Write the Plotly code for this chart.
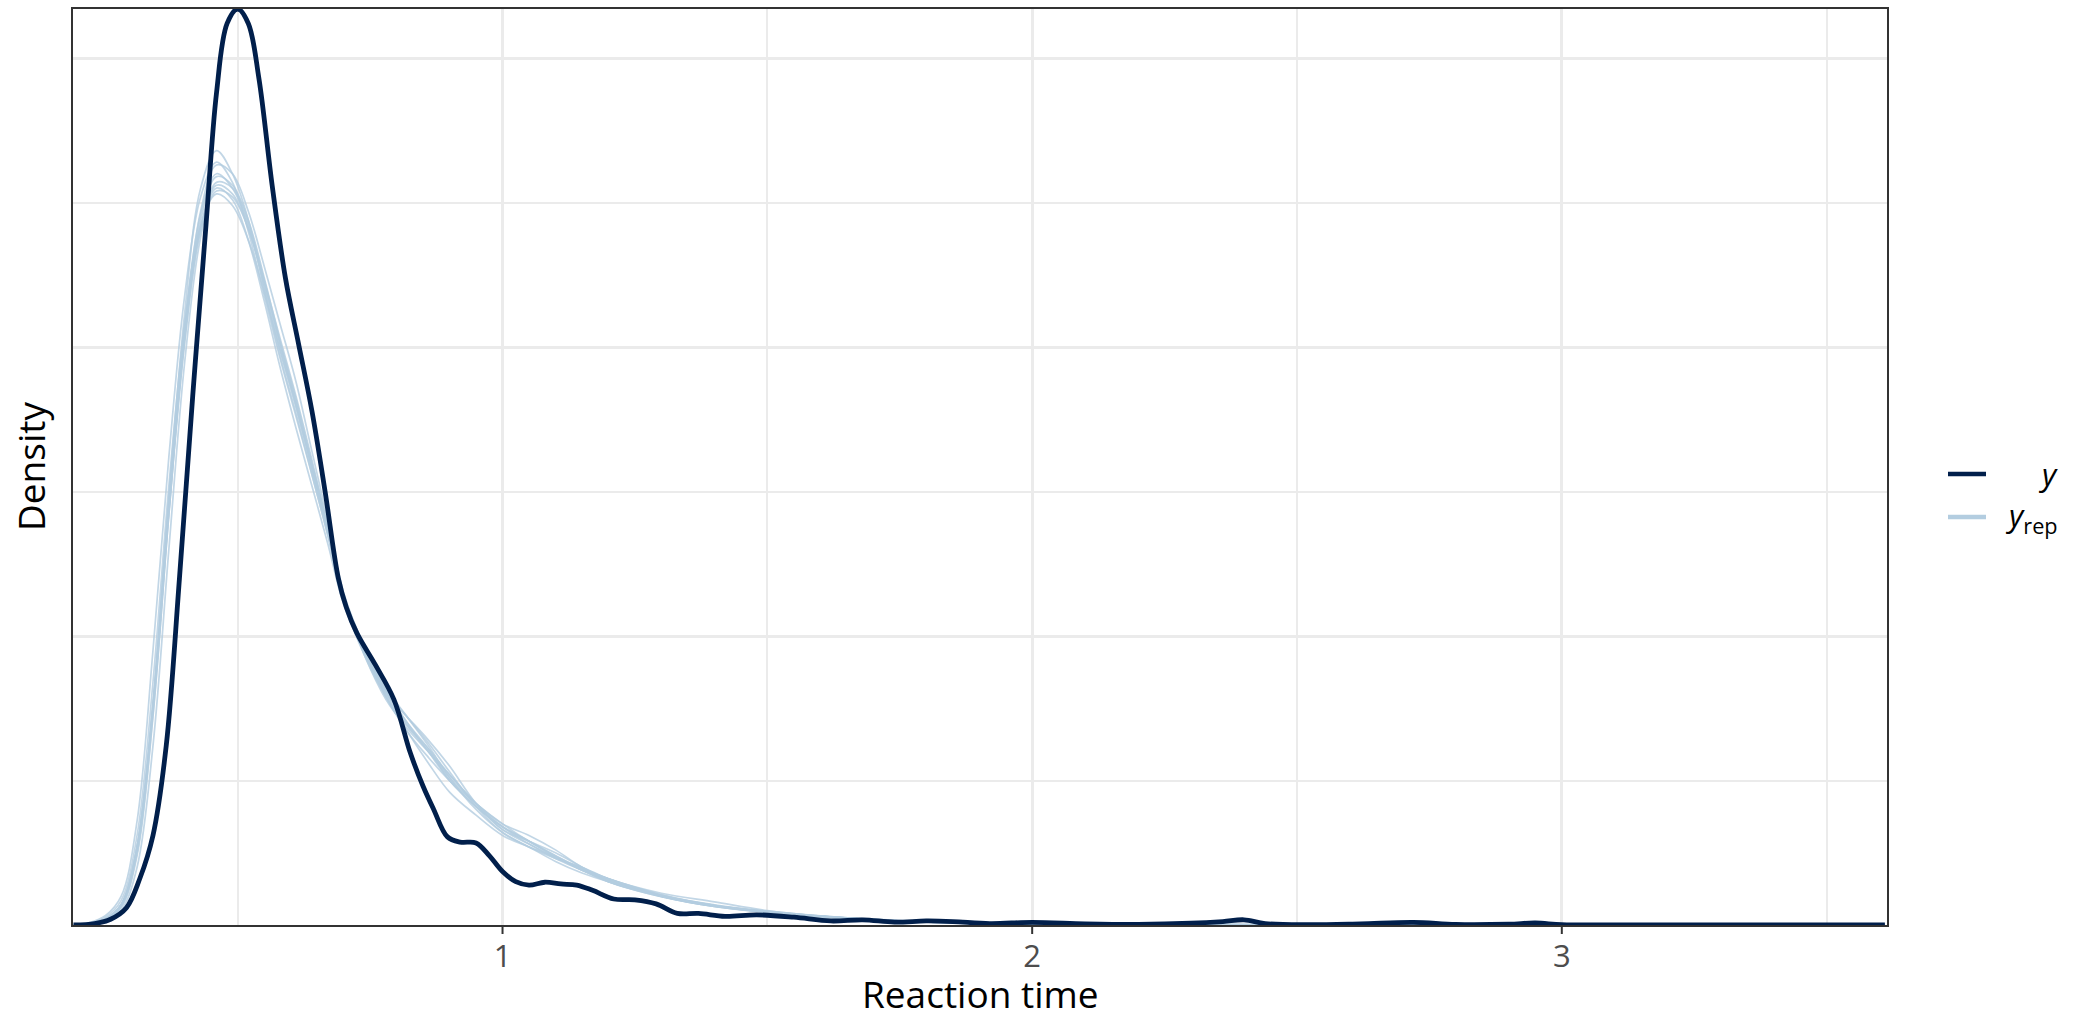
import plotly.graph_objects as go

# Observed reaction-time density (y)
y_x = [0.19, 0.23, 0.26, 0.29, 0.315, 0.34, 0.365, 0.39, 0.415, 0.44, 0.46, 0.48,
       0.50, 0.52, 0.54, 0.565, 0.59, 0.615, 0.64, 0.665, 0.69, 0.705, 0.725, 0.76,
       0.795, 0.826, 0.85, 0.87, 0.896, 0.92, 0.95, 0.975, 1.00, 1.025, 1.05, 1.08,
       1.11, 1.14, 1.17, 1.21, 1.25, 1.29, 1.33, 1.37, 1.42, 1.48, 1.55, 1.62, 1.68,
       1.74, 1.80, 1.85, 1.92, 2.00, 2.10, 2.20, 2.30, 2.36, 2.40, 2.44, 2.52, 2.62,
       2.72, 2.80, 2.90, 2.95, 3.00, 3.10, 3.61]
y_density = [0.0, 0.005, 0.02, 0.06, 0.16, 0.31, 0.62, 1.20, 1.83, 2.42, 2.88, 3.12,
             3.17, 3.12, 2.93, 2.56, 2.24, 2.01, 1.78, 1.50, 1.20, 1.10, 1.01, 0.90,
             0.78, 0.595, 0.48, 0.40, 0.305, 0.287, 0.284, 0.24, 0.185, 0.15, 0.138, 0.148,
             0.142, 0.138, 0.12, 0.09, 0.087, 0.073, 0.04, 0.04, 0.03, 0.035, 0.027, 0.014, 0.018,
             0.01, 0.014, 0.012, 0.005, 0.009, 0.004, 0.002, 0.006, 0.012, 0.018, 0.005, 0.001, 0.004,
             0.009, 0.002, 0.003, 0.007, 0.001, 0.0, 0.0]

# Replicated densities (y_rep), shared evaluation grid
yrep_x = [0.19, 0.22, 0.25, 0.28, 0.31, 0.34, 0.37, 0.40, 0.43, 0.46, 0.49, 0.52, 0.55,
          0.58, 0.61, 0.64, 0.67, 0.70, 0.74, 0.78, 0.82, 0.86, 0.90, 0.95, 1.00, 1.05,
          1.10, 1.15, 1.20, 1.30, 1.40, 1.50, 1.60, 1.70, 1.85, 2.00, 2.30, 3.61]
yrep_1 = [0.000, 0.004, 0.018, 0.065, 0.26, 0.76, 1.48, 2.12, 2.55, 2.68, 2.60, 2.44, 2.20,
          1.97, 1.77, 1.56, 1.35, 1.12, 0.94, 0.80, 0.72, 0.64, 0.55, 0.42, 0.33, 0.29,
          0.25, 0.20, 0.15, 0.098, 0.064, 0.044, 0.028, 0.017, 0.008, 0.004, 0.001, 0.0]
yrep_2 = [0.000, 0.008, 0.032, 0.10, 0.36, 0.95, 1.62, 2.18, 2.52, 2.64, 2.57, 2.40, 2.18,
          1.96, 1.76, 1.56, 1.35, 1.13, 0.93, 0.78, 0.68, 0.60, 0.52, 0.42, 0.34, 0.28,
          0.23, 0.19, 0.16, 0.105, 0.068, 0.046, 0.031, 0.019, 0.009, 0.004, 0.001, 0.0]
yrep_3 = [0.000, 0.005, 0.02, 0.07, 0.27, 0.75, 1.44, 2.05, 2.47, 2.63, 2.60, 2.47, 2.28,
          2.08, 1.88, 1.64, 1.40, 1.15, 0.96, 0.82, 0.72, 0.62, 0.51, 0.40, 0.32, 0.27,
          0.23, 0.20, 0.16, 0.10, 0.066, 0.046, 0.03, 0.018, 0.008, 0.004, 0.001, 0.0]
yrep_4 = [0.000, 0.004, 0.017, 0.06, 0.24, 0.72, 1.42, 2.04, 2.44, 2.59, 2.56, 2.44, 2.24,
          2.02, 1.82, 1.60, 1.38, 1.14, 0.96, 0.81, 0.70, 0.61, 0.50, 0.41, 0.34, 0.29,
          0.235, 0.19, 0.155, 0.10, 0.064, 0.043, 0.029, 0.018, 0.008, 0.003, 0.001, 0.0]
yrep_5 = [0.000, 0.003, 0.013, 0.05, 0.20, 0.62, 1.30, 1.95, 2.38, 2.57, 2.55, 2.43, 2.23,
          2.01, 1.80, 1.58, 1.37, 1.14, 0.95, 0.79, 0.67, 0.58, 0.50, 0.42, 0.35, 0.29,
          0.24, 0.195, 0.155, 0.102, 0.07, 0.048, 0.032, 0.02, 0.009, 0.004, 0.001, 0.0]
yrep_6 = [0.000, 0.005, 0.02, 0.07, 0.27, 0.76, 1.45, 2.04, 2.42, 2.56, 2.53, 2.41, 2.22,
          2.01, 1.81, 1.59, 1.37, 1.13, 0.94, 0.79, 0.67, 0.56, 0.46, 0.38, 0.31, 0.27,
          0.235, 0.19, 0.15, 0.10, 0.066, 0.045, 0.03, 0.018, 0.008, 0.004, 0.001, 0.0]
yrep_7 = [0.000, 0.004, 0.018, 0.065, 0.25, 0.73, 1.42, 2.02, 2.41, 2.55, 2.51, 2.37, 2.16,
          1.93, 1.72, 1.52, 1.32, 1.11, 0.94, 0.81, 0.70, 0.60, 0.50, 0.41, 0.34, 0.29,
          0.24, 0.19, 0.15, 0.098, 0.064, 0.045, 0.03, 0.018, 0.008, 0.004, 0.001, 0.0]
yrep_8 = [0.000, 0.005, 0.021, 0.072, 0.27, 0.75, 1.43, 2.02, 2.40, 2.54, 2.52, 2.41, 2.23,
          2.03, 1.83, 1.61, 1.38, 1.14, 0.95, 0.80, 0.69, 0.60, 0.51, 0.42, 0.35, 0.31,
          0.26, 0.20, 0.16, 0.11, 0.08, 0.05, 0.031, 0.019, 0.009, 0.004, 0.001, 0.0]
yrep_9 = [0.000, 0.006, 0.026, 0.085, 0.31, 0.84, 1.52, 2.08, 2.42, 2.53, 2.49, 2.37, 2.19,
          1.99, 1.80, 1.59, 1.37, 1.12, 0.93, 0.79, 0.69, 0.61, 0.52, 0.42, 0.33, 0.28,
          0.235, 0.195, 0.16, 0.104, 0.068, 0.046, 0.03, 0.018, 0.008, 0.004, 0.001, 0.0]
yrep_10 = [0.000, 0.005, 0.02, 0.07, 0.27, 0.77, 1.47, 2.08, 2.46, 2.60, 2.55, 2.42, 2.21,
           1.99, 1.79, 1.58, 1.36, 1.13, 0.94, 0.81, 0.72, 0.63, 0.53, 0.41, 0.32, 0.27,
           0.22, 0.18, 0.15, 0.10, 0.066, 0.045, 0.03, 0.018, 0.008, 0.004, 0.001, 0.0]
yrep_draws = [yrep_1, yrep_2, yrep_3, yrep_4, yrep_5, yrep_6, yrep_7, yrep_8, yrep_9, yrep_10]

x_ticks = [1, 2, 3]
x_tick_text = ["1", "2", "3"]
x_range = [0.189, 3.614]
y_range = [0, 3.17]

DARK = "#011f4b"
LIGHT = "#b3cde0"
AXIS = "#333333"
FONT = "Open Sans, Noto Sans, sans-serif"

fig = go.Figure()

for draw in yrep_draws:
    fig.add_trace(go.Scatter(
        x=yrep_x, y=draw, mode="lines",
        line=dict(color=LIGHT, width=1.7, shape="spline", smoothing=1.0),
        opacity=0.8, showlegend=False, hoverinfo="skip",
    ))

fig.add_trace(go.Scatter(
    x=y_x, y=y_density, mode="lines",
    line=dict(color=DARK, width=4.8, shape="spline", smoothing=1.0),
    showlegend=False,
))

W, H = 2077, 1018
ml, mr, mt, mb = 73, 190, 9, 93
pw = W - ml - mr
ph = H - mt - mb

def px_x(px):
    return (px - ml) / pw

def px_y(py):
    return (H - mb - py) / ph

shapes = []
annotations = []

# Outside tick marks on the x axis (labels sit right under them)
tick_len = 9
for t in x_ticks:
    shapes.append(dict(type="line", xref="x", yref="paper", x0=t, x1=t,
                       y0=0, y1=-tick_len / ph, line=dict(color=AXIS, width=2)))

# Legend keys drawn outside the panel
legend_rows = [(474, DARK, "<i>y</i>"), (517, LIGHT, "<i>y</i><sub>rep</sub>")]
for py, col, label in legend_rows:
    shapes.append(dict(type="line", xref="paper", yref="paper",
                       x0=px_x(1948), x1=px_x(1986), y0=px_y(py), y1=px_y(py),
                       line=dict(color=col, width=4.5)))
    annotations.append(dict(xref="paper", yref="paper", x=px_x(2060), y=px_y(py),
                            xanchor="right", yanchor="middle", showarrow=False,
                            text=label, font=dict(family=FONT, size=31, color="black")))

# Axis titles
annotations.append(dict(xref="paper", yref="paper", x=0.5, y=px_y(993),
                        xanchor="center", yanchor="middle", showarrow=False, borderpad=0,
                        text="Reaction time", font=dict(family=FONT, size=37, color="black")))
annotations.append(dict(xref="paper", yref="paper", x=px_x(30), y=0.5,
                        xanchor="center", yanchor="middle", showarrow=False, textangle=-90,
                        text="Density", font=dict(family=FONT, size=37, color="black")))

fig.update_layout(
    width=W, height=H,
    margin=dict(l=ml, r=mr, t=mt, b=mb, autoexpand=False),
    paper_bgcolor="white", plot_bgcolor="white",
    font=dict(family=FONT, color="black"),
    showlegend=False,
    shapes=shapes, annotations=annotations,
    xaxis=dict(
        range=x_range, tickmode="array", tickvals=x_ticks, ticktext=x_tick_text,
        # invisible spacer ticks nudge the labels a little further from the axis
        ticks="outside", ticklen=3, tickcolor="rgba(0,0,0,0)",
        tickfont=dict(family=FONT, size=31, color="#4d4d4d"),
        showline=True, linecolor=AXIS, linewidth=2, mirror=True,
        showgrid=True, gridcolor="#ebebeb", gridwidth=3,
        minor=dict(dtick=0.5, tick0=0, showgrid=True, gridcolor="#ebebeb", gridwidth=1.5, ticks=""),
        zeroline=False,
    ),
    yaxis=dict(
        range=y_range, tickmode="array", tickvals=[0, 1, 2, 3], showticklabels=False, ticks="",
        showline=True, linecolor=AXIS, linewidth=2, mirror=True,
        showgrid=True, gridcolor="#ebebeb", gridwidth=3,
        minor=dict(dtick=0.5, tick0=0, showgrid=True, gridcolor="#ebebeb", gridwidth=1.5, ticks=""),
        zeroline=False,
    ),
)

fig.write_html("out.html")
